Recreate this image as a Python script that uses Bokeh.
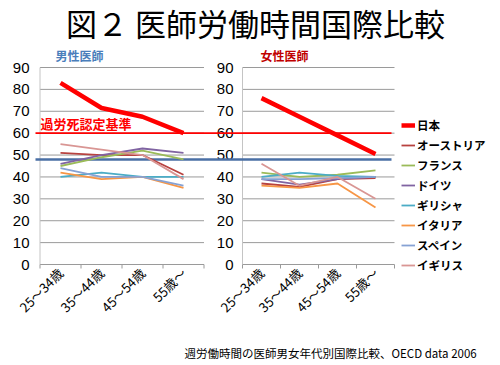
import math
from bokeh.plotting import figure
from bokeh.models import Range1d, Legend, LegendItem
from bokeh.core.properties import value
from bokeh.embed import file_html
from bokeh.resources import INLINE

# ---------------- data ----------------
categories = ["25～34歳", "35～44歳", "45～54歳", "55歳～"]
countries = ["日本", "オーストリア", "フランス", "ドイツ", "ギリシャ", "イタリア", "スペイン", "イギリス"]
colors = ["#ff0000", "#b8423f", "#9bbb59", "#8064a2", "#4bacc6", "#f79646", "#86a2d4", "#d99694"]

male_japan = [83, 71.5, 67.5, 60]
male_austria = [51, 50, 50, 41]
male_france = [45, 49, 52, 48]
male_germany = [46, 50, 53, 51]
male_greece = [40, 42, 40, 40]
male_italy = [42, 39, 40, 35]
male_spain = [44, 40, 40, 36]
male_uk = [55, 52.5, 50, 39]

female_japan = [76, 67.5, 59, 50.5]
female_austria = [37, 35.5, 39, 39.5]
female_france = [42, 40, 41, 43]
female_germany = [39, 36.5, 39, 40]
female_greece = [40, 42, 40.5, 40]
female_italy = [36, 35, 37, 26]
female_spain = [39, 39, 39.5, 40]
female_uk = [46, 36, 40, 30]

y_ticks = [0, 10, 20, 30, 40, 50, 60, 70, 80, 90]
karoshi_line = 60
eu_line = 48

title_text = "図２ 医師労働時間国際比較"
male_label = "男性医師"
female_label = "女性医師"
karoshi_label = "過労死認定基準"
footnote = "週労働時間の医師男女年代別国際比較、OECD data 2006"

male_series = [male_japan, male_austria, male_france, male_germany,
               male_greece, male_italy, male_spain, male_uk]
female_series = [female_japan, female_austria, female_france, female_germany,
                 female_greece, female_italy, female_spain, female_uk]

# ---------------- layout helpers ----------------
JP = value("Noto Sans CJK JP")
NUM = value("Liberation Sans")
W, H = 500, 365
PXU = 197.0 / 90.0          # pixels per hour


def yv(py):                 # pixel row -> hour value
    return (264 - py) / PXU


def xm(px):                 # pixel column -> male panel index
    return (px - 60) / 41.0


def xf(px):                 # pixel column -> female panel index
    return (px - 261) / 38.0


p = figure(width=W, height=H,
           x_range=Range1d(xm(0), xm(W)),
           y_range=Range1d(yv(H), yv(0)),
           output_backend="svg", toolbar_location=None,
           x_axis_location=None, y_axis_location=None,
           min_border_left=0, min_border_right=0,
           min_border_top=0, min_border_bottom=0)
p.extra_x_ranges = {"f": Range1d(xf(0), xf(W))}
p.outline_line_color = None
p.grid.visible = False
p.background_fill_color = "white"

n = len(categories)
xs = list(range(n))
grid_col = "#9a9a9a"

panels = [("default", xm(29)), ("f", xf(233))]
for rng, label_x in panels:
    # horizontal gridlines
    p.segment(x0=[-0.5] * len(y_ticks), x1=[n - 0.5] * len(y_ticks),
              y0=y_ticks, y1=y_ticks, line_color=grid_col, line_width=1,
              x_range_name=rng)
    # vertical axis line
    p.segment(x0=[-0.5], x1=[-0.5], y0=[0], y1=[y_ticks[-1]],
              line_color="#c4c4c4", line_width=1, x_range_name=rng)
    # category tick marks
    bx = [i - 0.5 for i in range(n + 1)]
    p.segment(x0=bx, x1=bx, y0=[0] * len(bx), y1=[-4 / PXU] * len(bx),
              line_color=grid_col, line_width=1, x_range_name=rng)
    # y tick labels
    p.text(x=[label_x] * len(y_ticks), y=y_ticks, text=[str(t) for t in y_ticks],
           text_align="right", text_baseline="middle", text_font=NUM,
           text_font_size="15px", text_color="black", x_range_name=rng)
    # rotated category labels
    p.text(x=xs, y=[-6 / PXU] * n, text=categories, angle=math.pi / 4,
           text_align="right", text_baseline="middle",
           text_font=JP, text_font_size="13px", text_color="black",
           x_range_name=rng)

# reference lines
p.line(x=[xm(35), xm(391)], y=[karoshi_line, karoshi_line],
       line_color="#ff0000", line_width=1.6)
p.line(x=[xm(35), xm(391)], y=[eu_line, eu_line],
       line_color="#4a6fa5", line_width=2.6)

# series
renderers = []
for name, col, m, f in zip(countries, colors, male_series, female_series):
    lw = 4.5 if name == "日本" else 1.8
    r = p.line(x=xs, y=m, line_color=col, line_width=lw)
    p.line(x=xs, y=f, line_color=col, line_width=lw, x_range_name="f")
    renderers.append((name, r))

# texts
p.text(x=[xm(255)], y=[yv(22)], text=[title_text], text_align="center",
       text_baseline="middle", text_font=JP, text_font_size="31px",
       text_color="black")
p.text(x=[xm(55)], y=[yv(54.5)], text=[male_label], text_align="left",
       text_baseline="middle", text_font=JP, text_font_size="12px",
       text_font_style="bold", text_color="#4a7ebb")
p.text(x=[xf(260)], y=[yv(54.5)], text=[female_label], text_align="left",
       text_baseline="middle", text_font=JP, text_font_size="12px",
       text_font_style="bold", text_color="#c00000", x_range_name="f")
p.text(x=[xm(40)], y=[yv(123)], text=[karoshi_label], text_align="left",
       text_baseline="middle", text_font=JP, text_font_size="13px",
       text_font_style="bold", text_color="#ff0000")
p.text(x=[xm(184)], y=[yv(352)], text=[footnote], text_align="left",
       text_baseline="middle", text_font=JP, text_font_size="11.5px",
       text_color="black")

legend = Legend(items=[LegendItem(label=nm, renderers=[r]) for nm, r in renderers],
                location=(401, 90), orientation="vertical",
                label_text_font="Noto Sans CJK JP", label_text_font_size="11.5px",
                label_text_font_style="bold", label_text_color="black",
                glyph_width=14, glyph_height=20, label_height=20,
                label_standoff=2, spacing=0, padding=0, margin=0,
                border_line_color=None, background_fill_alpha=0)
p.add_layout(legend)

open("out.html", "w").write(file_html(p, INLINE))
